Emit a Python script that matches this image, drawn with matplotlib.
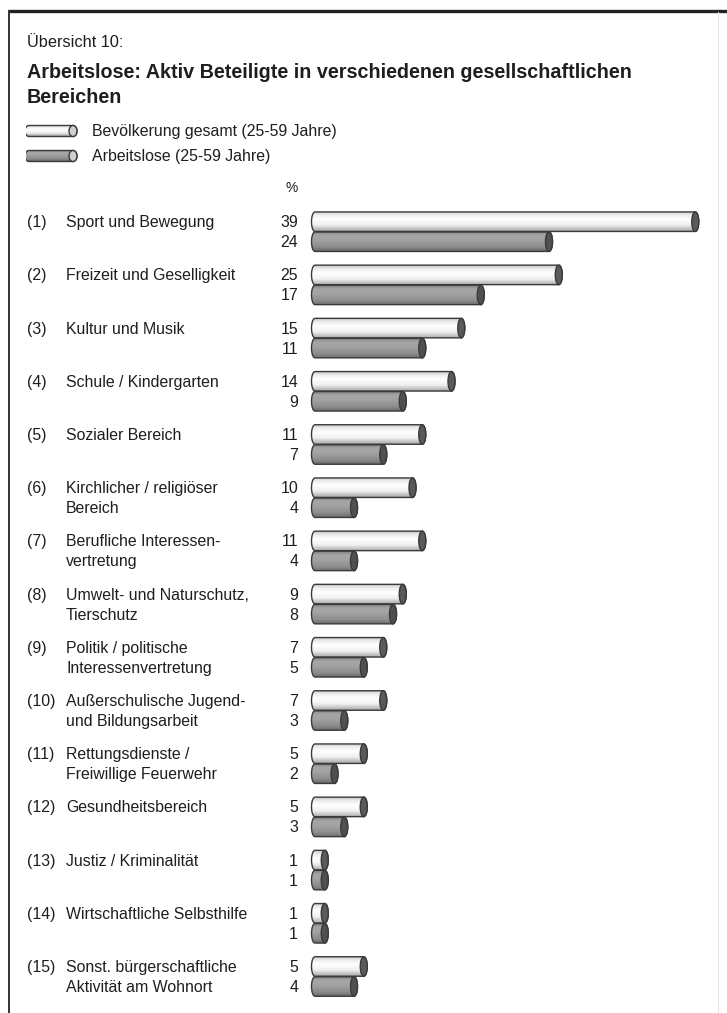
import numpy as np
import matplotlib
matplotlib.use("Agg")
import matplotlib.pyplot as plt
from matplotlib.path import Path
from matplotlib.patches import PathPatch, Ellipse
from matplotlib.colors import LinearSegmentedColormap

plt.rcParams['font.family'] = ['Liberation Sans', 'DejaVu Sans']

# ---------------- data ----------------
numbers = ["(1)", "(2)", "(3)", "(4)", "(5)", "(6)", "(7)", "(8)", "(9)", "(10)",
           "(11)", "(12)", "(13)", "(14)", "(15)"]
categories = [
    "Sport und Bewegung",
    "Freizeit und Geselligkeit",
    "Kultur und Musik",
    "Schule / Kindergarten",
    "Sozialer Bereich",
    "Kirchlicher / religiöser\nBereich",
    "Berufliche Interessen-\nvertretung",
    "Umwelt- und Naturschutz,\nTierschutz",
    "Politik / politische\nInteressenvertretung",
    "Außerschulische Jugend-\nund Bildungsarbeit",
    "Rettungsdienste /\nFreiwillige Feuerwehr",
    "Gesundheitsbereich",
    "Justiz / Kriminalität",
    "Wirtschaftliche Selbsthilfe",
    "Sonst. bürgerschaftliche\nAktivität am Wohnort",
]
bevoelkerung = [39, 25, 15, 14, 11, 10, 11, 9, 7, 7, 5, 5, 1, 1, 5]
arbeitslose = [24, 17, 11, 9, 7, 4, 4, 8, 5, 3, 2, 3, 1, 1, 4]
series_labels = ["Bevölkerung gesamt (25-59 Jahre)", "Arbeitslose (25-59 Jahre)"]
header = "Übersicht 10:"
title = "Arbeitslose: Aktiv Beteiligte in verschiedenen gesellschaftlichen\nBereichen"

W, H = 727, 1013
fig = plt.figure(figsize=(W / 100, H / 100), dpi=100)
fig.patch.set_facecolor('white')

TXT = '#1e1e1e'

def px_ax(x0, y0, x1, y1):
    """axes rectangle from pixel coordinates (top-left origin)"""
    return fig.add_axes([x0 / W, 1 - y1 / H, (x1 - x0) / W, (y1 - y0) / H])

white_cmap = LinearSegmentedColormap.from_list(
    'w', [(0, '#c4c4c4'), (0.18, '#ececec'), (0.4, '#ffffff'), (0.7, '#f0f0f0'), (1, '#a8a8a8')])
grey_cmap = LinearSegmentedColormap.from_list(
    'g', [(0, '#7e7e7e'), (0.2, '#a6a6a6'), (0.45, '#a2a2a2'), (0.8, '#8c8c8c'), (1, '#6c6c6c')])

def cylinder(ax, x, yc, h, w, cmap, capcol, edge='#3a3a3a', lw=1.0):
    """cylindrical bar from 0 to x, centred at yc, height h, cap width w (data units)"""
    y0, y1 = yc - h / 2, yc + h / 2
    t = np.linspace(-np.pi / 2, np.pi / 2, 30)
    rx = x + (w / 2) * np.cos(t)
    ry = yc + (h / 2) * np.sin(t)
    lx = 0 - (w / 2) * np.cos(t[::-1])
    ly = yc + (h / 2) * np.sin(t[::-1])
    xs = np.concatenate([rx, lx])
    ys = np.concatenate([ry, ly])
    verts = np.column_stack([xs, ys])
    verts = np.vstack([verts, verts[0]])
    codes = [Path.MOVETO] + [Path.LINETO] * (len(verts) - 2) + [Path.CLOSEPOLY]
    path = Path(verts, codes)
    grad = np.linspace(0, 1, 64).reshape(-1, 1)
    im = ax.imshow(grad, cmap=cmap, aspect='auto', origin='upper',
                   extent=(-w / 2, x + w / 2, y1, y0), zorder=2, interpolation='bilinear')
    patch = PathPatch(path, facecolor='none', edgecolor=edge, lw=lw, zorder=3)
    ax.add_patch(patch)
    im.set_clip_path(patch)
    ax.add_patch(Ellipse((x, yc), w, h, facecolor=capcol, edgecolor=edge, lw=lw, zorder=4))

# ---------------- bar axes ----------------
GAP = 53.2          # px between groups
TOP0 = 231.7        # px: boundary between first pair
X0, PXU = 315, 9.75  # px at value 0, px per unit
ax_top, ax_bot = 200, 1008
ax_left, ax_right = X0 - 10, 715
ax = px_ax(ax_left, ax_top, ax_right, ax_bot)
ax.set_xlim(-10 / PXU, (ax_right - X0) / PXU)
ax.set_ylim((ax_bot - TOP0) / GAP, (ax_top - TOP0) / GAP)
ax.axis('off')

bh = 19.5 / GAP
off = 10 / GAP
capw = 7 / PXU
for i, (a, b) in enumerate(zip(bevoelkerung, arbeitslose)):
    cylinder(ax, a, i - off, bh, capw, white_cmap, '#5a5a5a')
    cylinder(ax, b, i + off, bh, capw, grey_cmap, '#505050')

# numbers and labels
FS = 11.4
for i, (a, b) in enumerate(zip(bevoelkerung, arbeitslose)):
    yw = TOP0 + i * GAP - 9
    yg = TOP0 + i * GAP + 11
    fig.text(298 / W, 1 - yw / H, str(a), ha='right', va='center', fontsize=FS, color=TXT)
    fig.text(298 / W, 1 - yg / H, str(b), ha='right', va='center', fontsize=FS, color=TXT)
    fig.text(27 / W, 1 - yw / H, numbers[i], ha='left', va='center', fontsize=FS, color=TXT)
    lines = categories[i].split('\n')
    for j, ln in enumerate(lines):
        yy = yw if j == 0 else yg
        fig.text(66 / W, 1 - yy / H, ln, ha='left', va='center', fontsize=FS, color=TXT)

fig.text(298 / W, 1 - 188 / H, '%', ha='right', va='center', fontsize=FS - 1.5, color=TXT)

# header and title
fig.text(27 / W, 1 - 47 / H, header, ha='left', va='baseline', fontsize=11.8, color=TXT)
tl = title.split('\n')
fig.text(27 / W, 1 - 78 / H, tl[0], ha='left', va='baseline', fontsize=14.2,
         fontweight='bold', color=TXT)
fig.text(27 / W, 1 - 103 / H, tl[1], ha='left', va='baseline', fontsize=14.2,
         fontweight='bold', color=TXT)

# legend keys
lax = px_ax(26, 120, 82, 166)
lax.set_xlim(-3, 53)
lax.set_ylim(166, 120)
lax.axis('off')
cylinder(lax, 44, 131, 11, 8, white_cmap, '#d0d0d0', lw=1.0)
cylinder(lax, 44, 156, 11, 8, grey_cmap, '#cfcfcf', lw=1.0)
fig.text(92 / W, 1 - 131 / H, series_labels[0], ha='left', va='center', fontsize=FS, color=TXT)
fig.text(92 / W, 1 - 156 / H, series_labels[1], ha='left', va='center', fontsize=FS, color=TXT)

# frame
fax = fig.add_axes([0, 0, 1, 1], zorder=-1)
fax.set_xlim(0, W)
fax.set_ylim(H, 0)
fax.axis('off')
fax.plot([8, W], [10.5, 10.5], color='#222222', lw=2.4, solid_capstyle='butt')
fax.plot([8.5, 8.5], [10, H], color='#333333', lw=1.4, solid_capstyle='butt')
fax.plot([718, 718], [12, H], color='#e4e4e4', lw=0.8)

fig.savefig('out.png', dpi=100, facecolor='white')
